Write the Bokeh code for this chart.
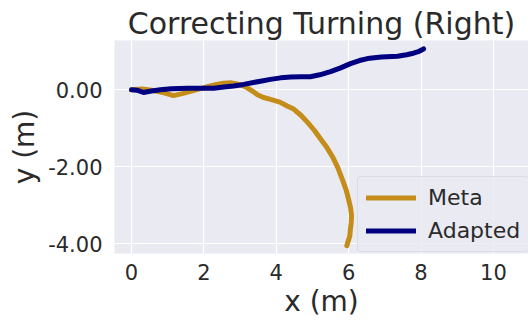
from bokeh.plotting import figure
from bokeh.models import Range1d, FixedTicker, PrintfTickFormatter, Legend, LegendItem
from bokeh.embed import file_html
from bokeh.resources import INLINE

# data
meta_x = [0.0, 0.3, 0.6, 0.9, 1.16, 1.4, 1.63, 1.9, 2.1, 2.35, 2.54, 2.75, 2.93, 3.1, 3.2, 3.35,
          3.48, 3.65, 3.84, 4.1, 4.3, 4.48, 4.68, 4.86, 5.05, 5.22, 5.4, 5.55, 5.7, 5.83, 5.93,
          6.0, 6.05, 6.08, 6.07, 6.05, 6.03, 5.98, 5.95]
meta_y = [0.0, 0.02, -0.02, -0.08, -0.15, -0.1, -0.04, 0.03, 0.08, 0.14, 0.17, 0.18, 0.15, 0.1,
          0.05, -0.04, -0.13, -0.2, -0.25, -0.32, -0.42, -0.5, -0.66, -0.84, -1.05, -1.27, -1.5,
          -1.73, -2.02, -2.34, -2.6, -2.85, -3.05, -3.26, -3.45, -3.61, -3.8, -3.95, -4.05]
adapted_x = [0.0, 0.15, 0.33, 0.55, 0.8, 1.1, 1.55, 1.9, 2.27, 2.55, 2.82, 3.1, 3.37, 3.6, 3.84,
             4.12, 4.4, 4.67, 4.94, 5.2, 5.5, 5.78, 6.05, 6.3, 6.52, 6.9, 7.35, 7.6, 7.79, 7.95, 8.07]
adapted_y = [0.0, -0.01, -0.07, -0.03, 0.0, 0.03, 0.04, 0.04, 0.04, 0.07, 0.1, 0.14, 0.19, 0.23,
             0.27, 0.31, 0.33, 0.34, 0.34, 0.39, 0.47, 0.57, 0.68, 0.76, 0.81, 0.85, 0.87, 0.91,
             0.95, 1.0, 1.06]
x_ticks = [0, 2, 4, 6, 8, 10]
y_ticks = [-4, -2, 0]
title_text = "Correcting Turning (Right)"
x_label = "x (m)"
y_label = "y (m)"
series_names = ["Meta", "Adapted"]
series_colors = ["#C48D1A", "#000080"]

FONT = "DejaVu Sans"
TXT = "#2a2a2a"

p = figure(width=528, height=320, output_backend="svg", toolbar_location=None,
           x_range=Range1d(-0.47, 10.97), y_range=Range1d(-4.25, 1.28),
           min_border_left=114, min_border_right=0, min_border_top=40, min_border_bottom=62)

p.title.text = title_text
p.title.align = "center"
p.title.text_font = FONT
p.title.text_font_size = "30px"
p.title.text_font_style = "normal"
p.title.text_color = TXT
p.title.standoff = 0

p.background_fill_color = "#EAEAF2"
p.border_fill_color = "white"
p.outline_line_color = None

for ax in (p.xaxis[0], p.yaxis[0]):
    ax.axis_line_color = None
    ax.major_tick_line_color = None
    ax.minor_tick_line_color = None
    ax.major_tick_out = 0
    ax.major_tick_in = 0
    ax.major_label_text_font = FONT
    ax.major_label_text_font_size = "21px"
    ax.major_label_text_color = TXT
    ax.axis_label_text_font = FONT
    ax.axis_label_text_font_size = "28px"
    ax.axis_label_text_font_style = "normal"
    ax.axis_label_text_color = TXT

p.xaxis.ticker = FixedTicker(ticks=x_ticks)
p.yaxis.ticker = FixedTicker(ticks=y_ticks)
p.yaxis.formatter = PrintfTickFormatter(format="%.2f")
p.xaxis.axis_label = x_label
p.yaxis.axis_label = y_label
p.xaxis.major_label_standoff = 10
p.yaxis.major_label_standoff = 12
p.xaxis.axis_label_standoff = 2
p.yaxis.axis_label_standoff = 4

p.grid.grid_line_color = "white"
p.grid.grid_line_width = 1.2
p.xgrid.ticker = FixedTicker(ticks=x_ticks)
p.ygrid.ticker = FixedTicker(ticks=y_ticks)

r1 = p.line(meta_x, meta_y, line_color=series_colors[0], line_width=5, line_join="round", line_cap="round")
r2 = p.line(adapted_x, adapted_y, line_color=series_colors[1], line_width=5, line_join="round", line_cap="round")

legend = Legend(items=[LegendItem(label=series_names[0], renderers=[r1]),
                       LegendItem(label=series_names[1], renderers=[r2])],
                location=(243, 1))
legend.label_text_font = FONT
legend.label_text_font_size = "22px"
legend.label_text_color = TXT
legend.glyph_width = 50
legend.glyph_height = 25
legend.label_height = 25
legend.spacing = 8
legend.padding = 8
legend.margin = 0
legend.label_standoff = 12
legend.background_fill_color = "#EAEAF2"
legend.background_fill_alpha = 0.8
legend.border_line_color = "#D0D0D6"
legend.border_line_width = 1
legend.border_radius = 4
p.add_layout(legend, "center")

open("out.html", "w").write(file_html(p, INLINE))
